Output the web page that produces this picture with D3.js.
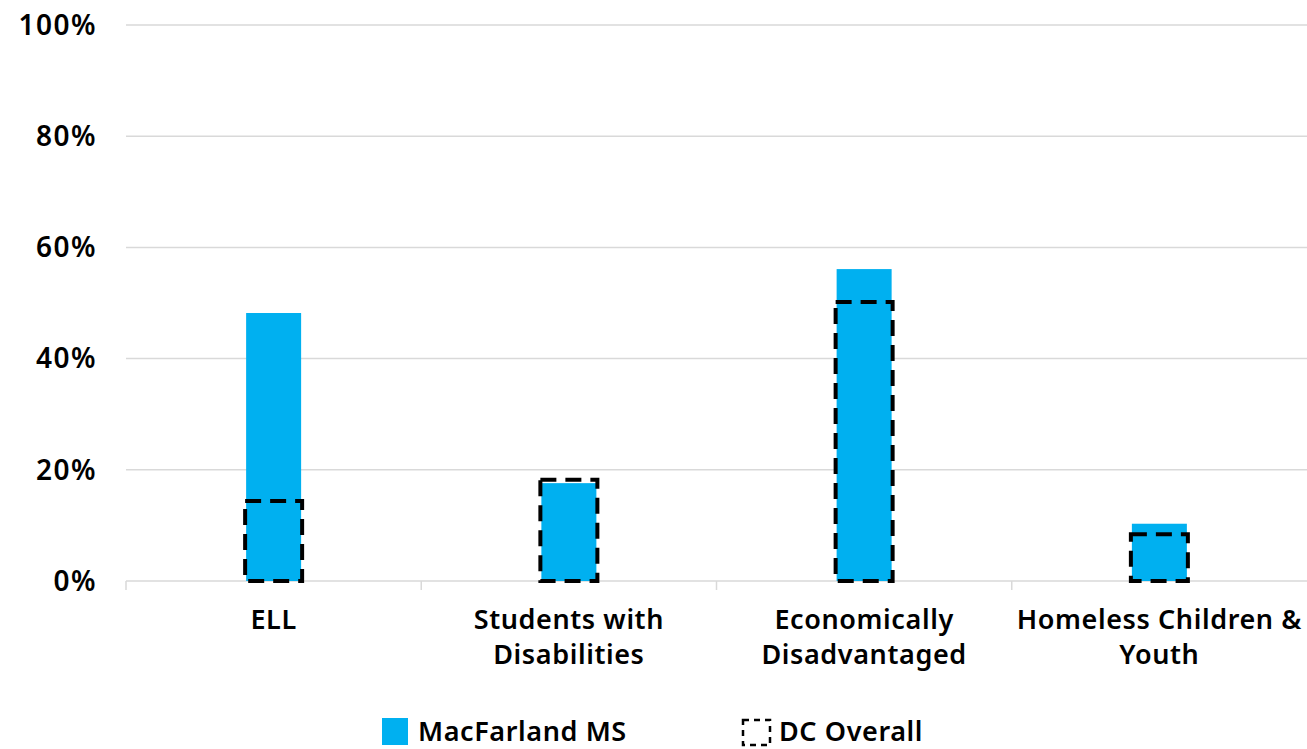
<!DOCTYPE html>
<html>
<head>
<meta charset="utf-8">
<script src="https://cdn.jsdelivr.net/npm/d3@7"></script>
<style>
  body { margin: 0; background: #fff; }
  text { font-family: "Noto Sans", sans-serif; font-weight: 600; fill: #000; letter-spacing: 0.6px; }
</style>
</head>
<body>
<div id="chart"></div>
<script>
// values
var categories = [["ELL"], ["Students with", "Disabilities"], ["Economically", "Disadvantaged"], ["Homeless Children &", "Youth"]];
var schoolVals = [48.2, 17.6, 56.1, 10.3];
var dcVals = [14.4, 18.2, 50.2, 8.4];
var yTicks = [0, 20, 40, 60, 80, 100];
var seriesNames = ["MacFarland MS", "DC Overall"];

var width = 1307, height = 749;
var margin = {top: 25, right: 0, bottom: 168, left: 126};
var plotW = width - margin.left - margin.right,
    plotH = height - margin.top - margin.bottom;

var svg = d3.select("#chart").append("svg")
  .attr("width", width)
  .attr("height", height);

var g = svg.append("g")
  .attr("transform", "translate(" + margin.left + "," + margin.top + ")");

var x = d3.scaleBand()
  .domain(d3.range(categories.length))
  .range([0, plotW]);

var y = d3.scaleLinear()
  .domain([0, 100])
  .range([plotH, 0]);

var barW = 55;

// gridlines
g.selectAll(".grid")
  .data(yTicks.filter(function(d) { return d > 0; }))
  .enter().append("line")
  .attr("x1", 0).attr("x2", plotW)
  .attr("y1", function(d) { return y(d); })
  .attr("y2", function(d) { return y(d); })
  .attr("stroke", "#d9d9d9")
  .attr("stroke-width", 1.5);

// y labels
g.selectAll(".ylab")
  .data(yTicks)
  .enter().append("text")
  .attr("x", -29)
  .attr("y", function(d) { return y(d); })
  .attr("dy", "0.35em")
  .attr("text-anchor", "end")
  .attr("font-size", 28)
  .style("letter-spacing", "1.5px")
  .text(function(d) { return d + "%"; });

// x axis
var xAxis = g.append("g")
  .attr("transform", "translate(0," + plotH + ")");
xAxis.append("line")
  .attr("x1", 0).attr("x2", plotW)
  .attr("stroke", "#d9d9d9").attr("stroke-width", 1.5);
xAxis.selectAll(".tk")
  .data(d3.range(categories.length))
  .enter().append("line")
  .attr("x1", function(d) { return x(d); })
  .attr("x2", function(d) { return x(d); })
  .attr("y1", 0).attr("y2", 9)
  .attr("stroke", "#d9d9d9").attr("stroke-width", 1.5);

// category labels
var labs = xAxis.selectAll(".clab")
  .data(categories)
  .enter().append("text")
  .attr("text-anchor", "middle")
  .attr("font-size", 27)
  .attr("x", function(d, i) { return x(i) + x.bandwidth() / 2; })
  .attr("y", 48);
labs.selectAll("tspan")
  .data(function(d) { return d; })
  .enter().append("tspan")
  .attr("x", function() { return d3.select(this.parentNode).attr("x"); })
  .attr("dy", function(d, i) { return i ? 35 : 0; })
  .text(function(d) { return d; });

// school bars
g.selectAll(".bar")
  .data(schoolVals)
  .enter().append("rect")
  .attr("x", function(d, i) { return x(i) + x.bandwidth() / 2 - barW / 2; })
  .attr("width", barW)
  .attr("y", function(d) { return y(d); })
  .attr("height", function(d) { return plotH - y(d); })
  .attr("fill", "#00b0f0");

// DC overall dashed boxes
g.selectAll(".dc")
  .data(dcVals)
  .enter().append("rect")
  .attr("x", function(d, i) { return x(i) + x.bandwidth() / 2 - barW / 2 - 1; })
  .attr("width", barW + 2)
  .attr("y", function(d) { return y(d); })
  .attr("height", function(d) { return plotH - y(d); })
  .attr("fill", "none")
  .attr("stroke", "#000")
  .attr("stroke-width", 4)
  .attr("stroke-dasharray", "16,9");

// legend
var leg = svg.append("g").attr("transform", "translate(0,718)");
leg.append("rect")
  .attr("x", 382).attr("y", 0).attr("width", 26).attr("height", 27)
  .attr("fill", "#00b0f0");
leg.append("text")
  .attr("x", 418).attr("y", 14).attr("dy", "0.35em")
  .attr("font-size", 27)
  .text(seriesNames[0]);
leg.append("rect")
  .attr("x", 743).attr("y", 2).attr("width", 27).attr("height", 25)
  .attr("fill", "none").attr("stroke", "#000").attr("stroke-width", 2.5)
  .attr("stroke-dasharray", "6,5");
leg.append("text")
  .attr("x", 779).attr("y", 14).attr("dy", "0.35em")
  .attr("font-size", 27)
  .text(seriesNames[1]);
</script>
</body>
</html>
